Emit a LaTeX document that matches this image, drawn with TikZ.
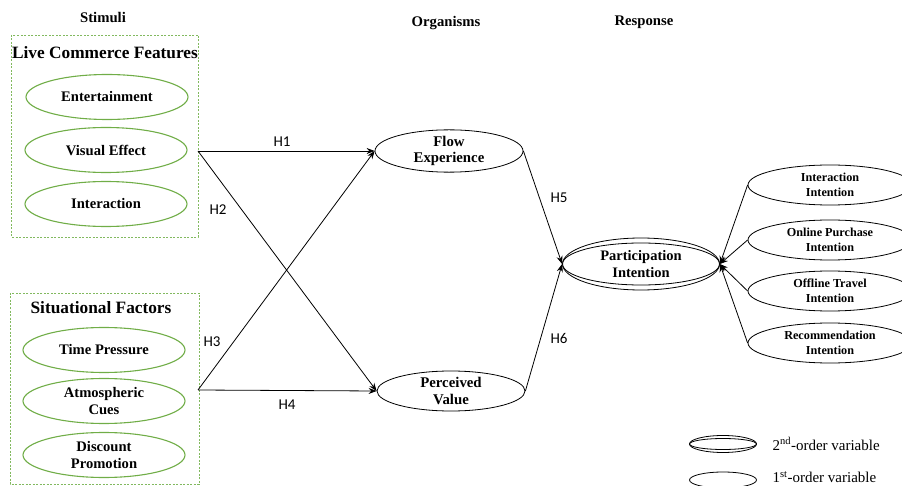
\documentclass[tikz,border=0pt]{standalone}
\usepackage{fontspec}
\setmainfont{Liberation Serif}
\newfontfamily\labfont{Carlito}
\usetikzlibrary{shapes.geometric,arrows.meta}
\definecolor{gr}{RGB}{112,173,71}
\definecolor{boxgr}{RGB}{130,185,95}
\begin{document}
\begin{tikzpicture}[x=1pt,y=-1pt,
  title/.style={font=\bfseries\fontsize{14.7}{16}\selectfont},
  grpbox/.style={draw=boxgr, line width=0.8pt, dash pattern=on 2pt off 1.5pt},
  grptitle/.style={font=\bfseries\fontsize{17.3}{19}\selectfont},
  greenell/.style={ellipse, draw=gr, line width=1.1pt, minimum width=162pt, minimum height=45pt, inner sep=0pt, align=center, font=\bfseries\fontsize{14.6}{17}\selectfont},
  blkell/.style={ellipse, draw, line width=0.8pt, minimum width=148pt, minimum height=40pt, inner sep=0pt, align=center, font=\bfseries\fontsize{14.8}{16.5}\selectfont},
  smallell/.style={ellipse, draw, line width=0.8pt, minimum width=164pt, minimum height=40pt, inner sep=0pt, align=center, font=\bfseries\fontsize{12.2}{14.5}\selectfont},
  hyp/.style={font=\labfont\fontsize{15}{17}\selectfont},
  arr/.style={line width=0.8pt, -{Stealth[length=8pt,width=6pt]}},
  legtext/.style={anchor=west, font=\fontsize{15}{16}\selectfont}
]
\clip (0,0) rectangle (902,486);
\useasboundingbox (0,0) rectangle (902,486);

% titles
\node[title] (tS) at (103,17) {Stimuli};
\node[title] (tO) at (446,23) {Organisms};
\node[title] (tR) at (644,22) {Response};

% group boxes
\draw[grpbox] (11,35) rectangle (198,237);
\draw[grpbox] (10,293) rectangle (199,484);
\node[grptitle] (g1) at (105,53) {Live Commerce Features};
\node[grptitle] (g2) at (101,308) {Situational Factors};

% stimuli ellipses
\node[greenell] (ent) at (107,97) {Entertainment};
\node[greenell] (vis) at (106,150) {Visual Effect};
\node[greenell] (int) at (106,204) {Interaction};
\node[greenell] (tp) at (104,350) {Time Pressure};
\node[greenell] (atm) at (104,401) {Atmospheric\\Cues};
\node[greenell] (dis) at (104,455) {Discount\\Promotion};

\coordinate (s1) at (198,151);
\coordinate (s2) at (198,390);

% organisms
\node[blkell] (flow) at (449,151) {Flow\\Experience};
\node[blkell] (pv) at (451,391) {Perceived\\Value};

% response
\node[ellipse, draw, line width=0.8pt, minimum width=157pt, minimum height=52pt, inner sep=0pt, align=center, font=\bfseries\fontsize{14.5}{17.5}\selectfont] (pi) at (641,264) {Participation\\Intention};
\draw[line width=0.8pt] (pi.center) ellipse [x radius=78.5pt, y radius=21pt];

\node[smallell] (ii) at (830,185) {Interaction\\Intention};
\node[smallell] (op) at (830,240) {Online Purchase\\Intention};
\node[smallell] (ot) at (830,291) {Offline Travel\\Intention};
\node[smallell] (ri) at (830,343) {Recommendation\\Intention};

% arrows
\draw[arr] (s1) -- (flow.west);
\draw[arr] (s1) -- (pv.west);
\draw[arr] (s2) -- (flow.west);
\draw[arr] (s2) -- (pv.west);
\draw[arr] (flow.east) -- (pi.west);
\draw[arr] (pv.east) -- (pi.west);
\draw[arr] (ii.west) -- (pi.east);
\draw[arr] (op.west) -- (pi.east);
\draw[arr] (ot.west) -- (pi.east);
\draw[arr] (ri.west) -- (pi.east);

% hypothesis labels
\node[hyp] (h1) at (282,142) {H1};
\node[hyp] (h2) at (218,210) {H2};
\node[hyp] (h3) at (212,342) {H3};
\node[hyp] (h4) at (287,405) {H4};
\node[hyp] (h5) at (559,198) {H5};
\node[hyp] (h6) at (559,338) {H6};

% legend
\node[ellipse, draw, line width=0.8pt, minimum width=67pt, minimum height=17pt, inner sep=0pt] (l2) at (723,444) {};
\draw[line width=0.8pt] (l2.center) ellipse [x radius=33.5pt, y radius=5.5pt];
\node[legtext] (l2t) at (769,444) {2\textsuperscript{nd}-order variable};
\node[ellipse, draw, line width=0.8pt, minimum width=67pt, minimum height=16pt, inner sep=0pt] (l1) at (723,480) {};
\node[legtext] (l1t) at (769,477) {1\textsuperscript{st}-order variable};
\end{tikzpicture}
\end{document}
